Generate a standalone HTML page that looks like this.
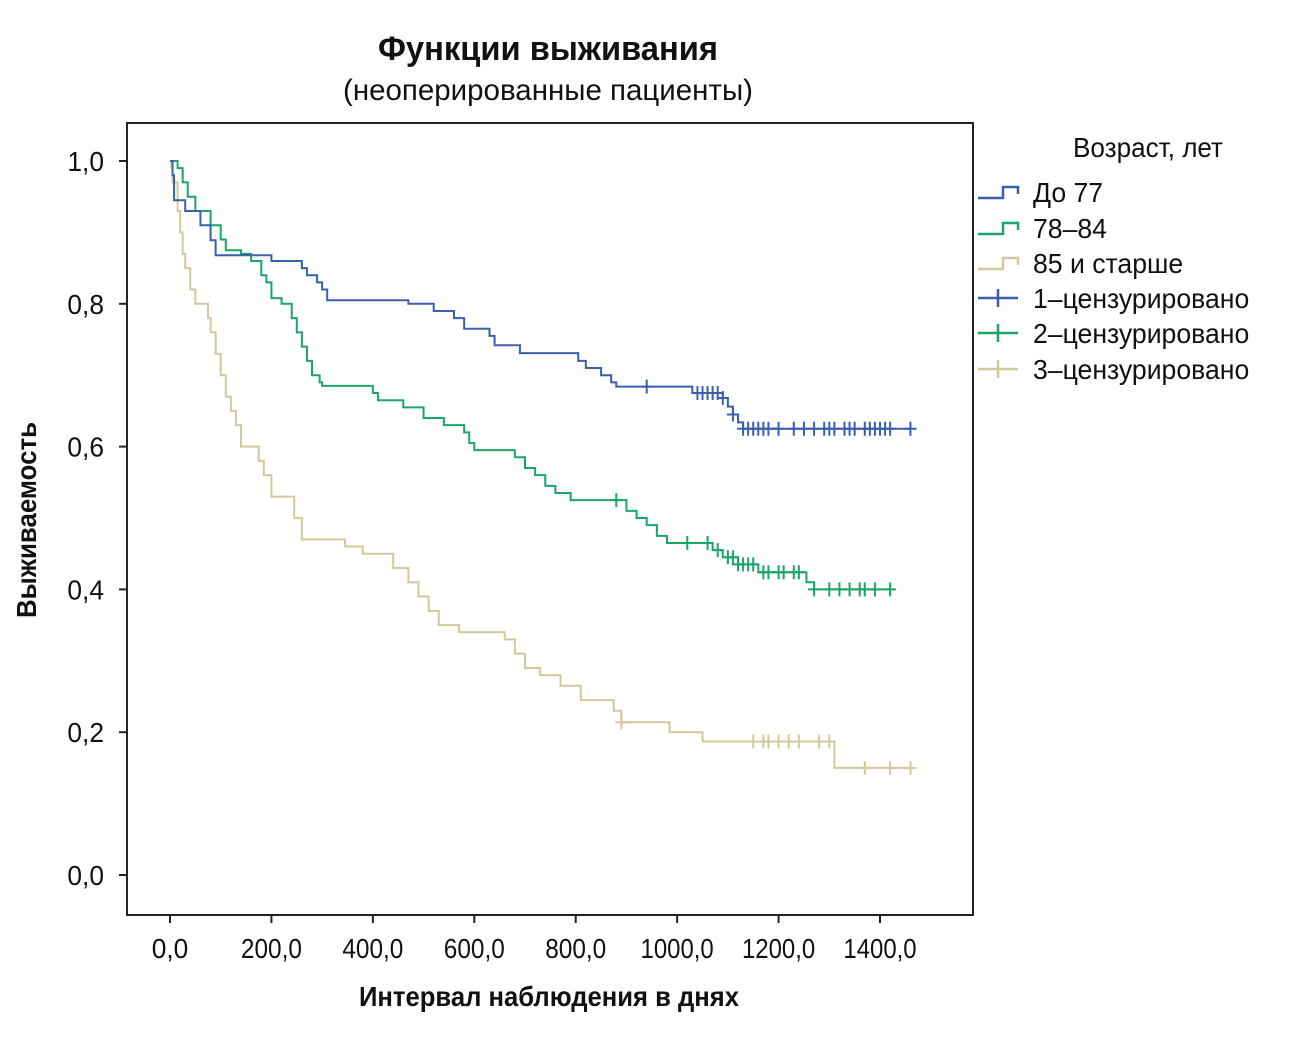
<!DOCTYPE html>
<html><head><meta charset="utf-8"><style>
body{margin:0;background:#fff;width:1299px;height:1040px;overflow:hidden}
svg text{font-family:"Liberation Sans Narrow","Liberation Sans",sans-serif;fill:#111}
</style></head><body>
<svg id="chart" width="1299" height="1040">
<text x="548" y="60" text-anchor="middle" font-size="34" font-weight="bold" textLength="340" lengthAdjust="spacingAndGlyphs">Функции выживания</text>
<text x="548" y="100" text-anchor="middle" font-size="30" textLength="410" lengthAdjust="spacingAndGlyphs">(неоперированные пациенты)</text>
<rect x="127" y="123" width="846" height="792" fill="none" stroke="#222" stroke-width="2"/>
<g id="axes"></g>
<g id="series"></g>
<text transform="translate(36,520) rotate(-90)" text-anchor="middle" font-size="28" font-weight="bold" textLength="196" lengthAdjust="spacingAndGlyphs">Выживаемость</text>
<text x="549" y="1006" text-anchor="middle" font-size="28" font-weight="bold" textLength="380" lengthAdjust="spacingAndGlyphs">Интервал наблюдения в днях</text>
<text x="1148" y="157" text-anchor="middle" font-size="28" textLength="150" lengthAdjust="spacingAndGlyphs">Возраст, лет</text>
<g id="legend"></g>
</svg>
<script>
const xTicks=[0,200,400,600,800,1000,1200,1400];
const xTickLabels=["0,0","200,0","400,0","600,0","800,0","1000,0","1200,0","1400,0"];
const yTicks=[0,0.2,0.4,0.6,0.8,1.0];
const yTickLabels=["0,0","0,2","0,4","0,6","0,8","1,0"];
const seriesNames=["До 77","78–84","85 и старше","1–цензурировано","2–цензурировано","3–цензурировано"];
const seriesColors=["#3a5fae","#1aa56a","#d2c99a"];
const blueT=[0,5,8,30,60,80,90,200,260,270,290,300,310,470,520,560,580,630,640,690,805,820,850,870,880,1030,1090,1100,1110,1120,1130];
const blueS=[1,0.98,0.945,0.93,0.91,0.889,0.868,0.86,0.85,0.84,0.83,0.82,0.805,0.8,0.79,0.78,0.765,0.755,0.742,0.731,0.72,0.71,0.7,0.69,0.684,0.675,0.668,0.656,0.645,0.634,0.625];
const blueEnd=1460;
const blueCens=[940,1040,1050,1060,1070,1080,1090,1110,1130,1140,1150,1160,1170,1180,1200,1230,1250,1270,1290,1300,1310,1330,1340,1350,1370,1380,1390,1400,1410,1420,1460];
const greenT=[0,15,25,35,50,80,100,110,140,160,180,190,200,220,240,250,260,270,280,295,300,400,410,460,500,540,580,590,600,680,700,720,740,760,790,900,920,940,960,980,1070,1090,1120,1160,1255,1270];
const greenS=[1,0.99,0.97,0.95,0.93,0.91,0.89,0.875,0.87,0.86,0.84,0.83,0.808,0.8,0.78,0.76,0.74,0.72,0.70,0.69,0.685,0.675,0.665,0.655,0.64,0.63,0.62,0.605,0.595,0.585,0.57,0.56,0.545,0.535,0.525,0.51,0.5,0.49,0.475,0.465,0.455,0.445,0.435,0.424,0.41,0.4];
const greenEnd=1420;
const greenCens=[880,1020,1060,1080,1100,1110,1120,1130,1140,1150,1170,1180,1200,1210,1230,1240,1270,1300,1320,1340,1360,1370,1390,1420];
const tanT=[0,3,5,15,20,25,30,40,50,75,80,90,100,110,120,130,140,175,185,200,245,260,345,380,440,470,490,510,530,570,660,680,700,730,770,810,875,890,985,1050,1310];
const tanS=[1,0.99,0.97,0.93,0.9,0.87,0.85,0.82,0.8,0.78,0.76,0.73,0.7,0.67,0.65,0.63,0.6,0.58,0.56,0.53,0.5,0.47,0.46,0.45,0.43,0.41,0.39,0.37,0.35,0.34,0.33,0.31,0.29,0.28,0.265,0.245,0.23,0.214,0.2,0.187,0.15];
const tanEnd=1460;
const tanCens=[890,1150,1170,1180,1200,1220,1240,1280,1300,1370,1420,1460];

const NS="http://www.w3.org/2000/svg";
const X=d=>170+d*(880-170)/1400;
const Y=v=>875-v*(875-161);
function mk(tag,attrs,parent){const e=document.createElementNS(NS,tag);for(const k in attrs)e.setAttribute(k,attrs[k]);parent.appendChild(e);return e;}
const axes=document.getElementById('axes');
xTicks.forEach((t,i)=>{
  const l=mk('line',{x1:X(t),x2:X(t),y1:915,y2:923,stroke:'#222','stroke-width':2},axes);
  
  
  const tx=mk('text',{x:X(t),y:958,'text-anchor':'middle','font-size':28,textLength:xTickLabels[i].length*12.2,lengthAdjust:'spacingAndGlyphs'},axes);
  tx.textContent=xTickLabels[i];
  
  
});
yTicks.forEach((t,i)=>{
  const l=mk('line',{x1:119,x2:127,y1:Y(t),y2:Y(t),stroke:'#222','stroke-width':2},axes);
  
  
  const tx=mk('text',{x:104,y:Y(t)+10,'text-anchor':'end','font-size':28,textLength:yTickLabels[i].length*12.2,lengthAdjust:'spacingAndGlyphs'},axes);
  tx.textContent=yTickLabels[i];
  
  
});
const sg=document.getElementById('series');
function drawSeries(T,S,end,cens,color,name){
  let d=`M${X(T[0])},${Y(S[0])}`;
  for(let i=1;i<T.length;i++){d+=`H${X(T[i])}V${Y(S[i])}`;}
  d+=`H${X(end)}`;
  const p=mk('path',{d:d,fill:'none',stroke:color,'stroke-width':2},sg);
  
  
  cens.forEach(c=>{
    let s=S[0];for(let i=0;i<T.length;i++)if(T[i]<=c)s=S[i];
    const m=mk('path',{d:`M${X(c)-6},${Y(s)}H${X(c)+6}M${X(c)},${Y(s)-7}V${Y(s)+7}`,stroke:color,'stroke-width':2},sg);
    
    
  });
}
drawSeries(tanT,tanS,tanEnd,tanCens,seriesColors[2],'age-85-plus');
drawSeries(greenT,greenS,greenEnd,greenCens,seriesColors[1],'age-78-84');
drawSeries(blueT,blueS,blueEnd,blueCens,seriesColors[0],'age-under-77');
const lg=document.getElementById('legend');
seriesNames.forEach((n,i)=>{
  const y=[192,228,263,298,333,369][i];
  const c=seriesColors[i%3];
  let p;
  if(i<3) p=mk('path',{d:`M978,${y+6}H1003V${y-5}H1018V${y+2}`,fill:'none',stroke:c,'stroke-width':2.5},lg);
  else p=mk('path',{d:`M978,${y}H1018M998,${y-9}V${y+9}`,stroke:c,'stroke-width':2.5},lg);
  
  
  const t=mk('text',{x:1033,y:y+10,'font-size':28},lg);
  t.textContent=n;
  const w=t.getComputedTextLength();
  t.setAttribute('textLength',w*0.95);
  t.setAttribute('lengthAdjust','spacingAndGlyphs');
  
  
});
</script>
</body></html>
